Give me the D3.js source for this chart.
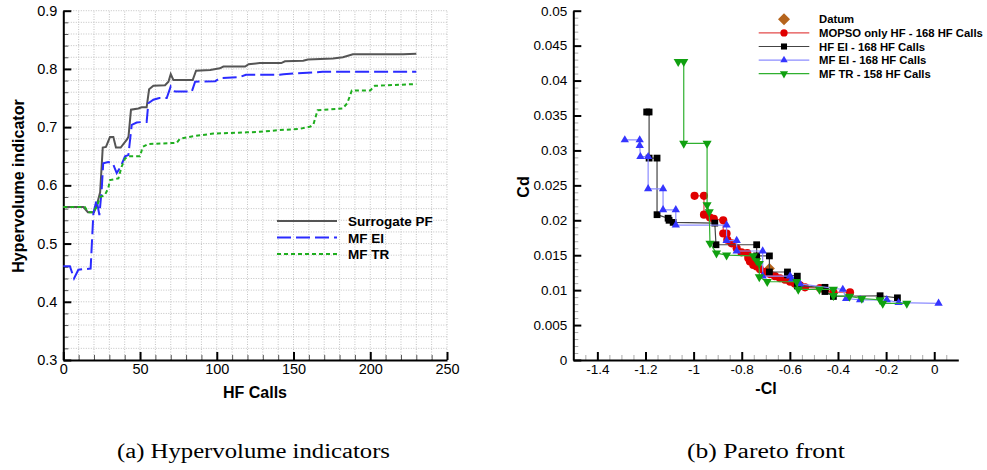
<!DOCTYPE html>
<html>
<head>
<meta charset="utf-8">
<script src="https://cdn.jsdelivr.net/npm/d3@7"></script>
<style>
  body { margin: 0; background: #fff; }
  text { font-family: "Liberation Sans", Arial, sans-serif; }
  .caption { font-family: "Liberation Serif", "DejaVu Serif", serif; }
</style>
</head>
<body>
<div id="chart"></div>
<script>
// ---- (a) hypervolume indicators: [HF calls, hypervolume]
const surrogatePF = [[0,0.563],[13,0.563],[16,0.554],[20,0.554],[22,0.568],[24,0.588],[25.7,0.665],[27.8,0.666],[30.4,0.683],[32.6,0.683],[34.3,0.665],[37.4,0.665],[41.5,0.679],[42.5,0.684],[44.1,0.730],[48.9,0.732],[51,0.734],[54.3,0.734],[55.9,0.765],[58.7,0.771],[66.3,0.772],[68.5,0.778],[70,0.791],[71.7,0.781],[84.3,0.781],[86.5,0.797],[95.7,0.798],[102,0.801],[104.3,0.804],[118.5,0.804],[120.7,0.808],[128,0.810],[142,0.810],[144.4,0.813],[156.3,0.814],[159.4,0.816],[175.7,0.818],[182.2,0.820],[188.7,0.825],[221.3,0.825],[230,0.826]];
const mfEI_hv = [[0,0.461],[4.3,0.461],[7,0.440],[9.8,0.455],[13,0.456],[17.8,0.457],[19.6,0.552],[21.7,0.575],[23.5,0.549],[25,0.592],[26,0.638],[29.3,0.640],[32.2,0.638],[34.8,0.621],[37.4,0.632],[40.2,0.650],[42.4,0.652],[44.6,0.704],[47.8,0.708],[52.2,0.709],[54.3,0.709],[55.4,0.741],[58.7,0.747],[62.6,0.750],[67.4,0.750],[70,0.770],[72.8,0.761],[83.7,0.761],[85.9,0.778],[99,0.779],[102,0.784],[115,0.786],[119,0.790],[141,0.790],[143.5,0.791],[156,0.793],[169,0.795],[230,0.795]];
const mfTR_hv = [[0,0.563],[14,0.563],[16.3,0.554],[19.6,0.554],[21.7,0.563],[24,0.580],[27,0.583],[29.3,0.595],[30.4,0.609],[35.9,0.612],[38,0.632],[40.2,0.646],[42.4,0.650],[50,0.650],[51.7,0.666],[55.4,0.671],[73.9,0.673],[76,0.680],[83.7,0.684],[97.8,0.689],[119.6,0.691],[128,0.692],[141,0.695],[154,0.697],[161,0.701],[163,0.705],[165.7,0.729],[182,0.732],[185,0.741],[188,0.763],[200,0.763],[203,0.771],[230,0.774]];
const hvXTicks = [0, 50, 100, 150, 200, 250];
const hvYTicks = [0.3, 0.4, 0.5, 0.6, 0.7, 0.8, 0.9];
const hvLegend = ["Surrogate PF", "MF EI", "MF TR"];

// ---- (b) Pareto front: [-Cl, Cd]
const datum = [[-0.685, 0.0131]];
const mopsoHF = [[-0.996,0.0235],[-0.957,0.0235],[-0.957,0.0208],[-0.932,0.0204],[-0.916,0.0202],[-0.877,0.0200],[-0.877,0.0181],[-0.863,0.0181],[-0.860,0.0172],[-0.842,0.0167],[-0.821,0.0160],[-0.801,0.0154],[-0.777,0.0153],[-0.773,0.0146],[-0.766,0.0141],[-0.752,0.0136],[-0.738,0.0134],[-0.724,0.0130],[-0.703,0.0126],[-0.683,0.0123],[-0.662,0.0120],[-0.641,0.0117],[-0.620,0.0115],[-0.599,0.0112],[-0.579,0.0109],[-0.558,0.0107],[-0.537,0.0104],[-0.475,0.0103],[-0.454,0.0100],[-0.419,0.0097],[-0.350,0.0097]];
const hfEI = [[-1.195,0.0355],[-1.185,0.0355],[-1.185,0.0289],[-1.152,0.0289],[-1.152,0.0208],[-1.106,0.0203],[-1.102,0.0200],[-1.085,0.0197],[-0.912,0.0196],[-0.907,0.0165],[-0.738,0.0165],[-0.738,0.0149],[-0.685,0.0149],[-0.685,0.0126],[-0.610,0.0126],[-0.610,0.0122],[-0.569,0.0120],[-0.569,0.0106],[-0.454,0.0104],[-0.454,0.0098],[-0.419,0.0091],[-0.225,0.0092],[-0.153,0.0089]];
const mfEI = [[-1.286,0.0315],[-1.224,0.0315],[-1.224,0.0307],[-1.221,0.0291],[-1.189,0.0291],[-1.189,0.0245],[-1.127,0.0245],[-1.127,0.0215],[-1.074,0.0215],[-1.074,0.0193],[-0.863,0.0193],[-0.863,0.0171],[-0.821,0.0171],[-0.821,0.0156],[-0.713,0.0156],[-0.713,0.0120],[-0.599,0.0120],[-0.592,0.0115],[-0.558,0.0109],[-0.380,0.0101],[-0.366,0.0088],[-0.308,0.0086],[-0.197,0.0086],[-0.148,0.0082],[0.018,0.0081]];
const mfTR = [[-1.064,0.0427],[-1.041,0.0427],[-1.041,0.0310],[-0.944,0.0310],[-0.944,0.0222],[-0.935,0.0212],[-0.932,0.0167],[-0.905,0.0153],[-0.863,0.0150],[-0.752,0.0149],[-0.738,0.0142],[-0.727,0.0138],[-0.727,0.0119],[-0.694,0.0112],[-0.572,0.0112],[-0.565,0.0101],[-0.477,0.0101],[-0.419,0.0101],[-0.419,0.0092],[-0.352,0.0091],[-0.301,0.0088],[-0.225,0.0086],[-0.214,0.0081],[-0.114,0.0081]];
const pfXTicks = [-1.4, -1.2, -1, -0.8, -0.6, -0.4, -0.2, 0];
const pfYTicks = [0, 0.005, 0.01, 0.015, 0.02, 0.025, 0.03, 0.035, 0.04, 0.045, 0.05];
const pfLegend = ["Datum", "MOPSO only HF - 168 HF Calls", "HF EI - 168 HF Calls", "MF EI - 168 HF Calls", "MF TR - 158 HF Calls"];

const captions = ["(a) Hypervolume indicators", "(b) Pareto front"];

const svg = d3.select("#chart").append("svg")
    .attr("width", 987)
    .attr("height", 470);

// helper: inward ticks (major + minor) on left/bottom axes
function drawAxes(g, x, y, xMajor, yMajor, xMinor, yMinor, xFmt, yFmt, fontSize, bottom, minorColor) {
    const minorX = g.append("g").attr("transform", `translate(0,${bottom})`)
        .call(d3.axisBottom(x).tickValues(xMinor).tickSize(-5).tickFormat(""));
    minorX.select(".domain").remove();
    minorX.selectAll("line").attr("stroke", minorColor).attr("stroke-width", 1);

    const minorY = g.append("g").attr("transform", `translate(${x.range()[0]},0)`)
        .call(d3.axisLeft(y).tickValues(yMinor).tickSize(-5).tickFormat(""));
    minorY.select(".domain").remove();
    minorY.selectAll("line").attr("stroke", minorColor).attr("stroke-width", 1);

    const ax = g.append("g").attr("transform", `translate(0,${bottom})`)
        .call(d3.axisBottom(x).tickValues(xMajor).tickSize(-8).tickSizeOuter(0).tickPadding(4).tickFormat(xFmt));
    const ay = g.append("g").attr("transform", `translate(${x.range()[0]},0)`)
        .call(d3.axisLeft(y).tickValues(yMajor).tickSize(-8).tickSizeOuter(0).tickPadding(6).tickFormat(yFmt));
    [ax, ay].forEach(a => {
        a.select(".domain").attr("stroke", "#000").attr("stroke-width", 2);
        a.selectAll(".tick line").attr("stroke", "#000").attr("stroke-width", 2);
        a.selectAll(".tick text").attr("fill", "#000").style("font-size", fontSize + "px")
            .style("font-family", "'Liberation Sans', Arial, sans-serif");
    });
}

// ================= (a) =================
const gA = svg.append("g");
const xA = d3.scaleLinear().domain([0, 250]).range([63.3, 447]);
const yA = d3.scaleLinear().domain([0.3, 0.9]).range([360, 10.7]);

const gridX = d3.range(10, 251, 10);
const gridY = d3.range(0.32, 0.9001, 0.02);
gA.append("g").selectAll("line").data(gridX).enter().append("line")
    .attr("x1", d => xA(d)).attr("x2", d => xA(d))
    .attr("y1", yA(0.3)).attr("y2", yA(0.9))
    .attr("stroke", "#c2c2c2").attr("stroke-width", 1).attr("stroke-dasharray", "1,1.5");
gA.append("g").selectAll("line").data(gridY).enter().append("line")
    .attr("x1", xA(0)).attr("x2", xA(250))
    .attr("y1", d => yA(d)).attr("y2", d => yA(d))
    .attr("stroke", "#c2c2c2").attr("stroke-width", 1).attr("stroke-dasharray", "1,1.5");

drawAxes(gA, xA, yA, hvXTicks, hvYTicks,
    d3.range(10, 250, 10).filter(d => d % 50 !== 0),
    d3.range(0.32, 0.9, 0.02).filter(d => Math.abs(d * 10 - Math.round(d * 10)) > 1e-6),
    d => d, d3.format(".1f"), 14.5, 360, "#555");

const lineA = d3.line().x(d => xA(d[0])).y(d => yA(d[1]));
const hvSeries = [
    { data: surrogatePF, color: "#555555", dash: null },
    { data: mfEI_hv, color: "#2b2bff", dash: "14,5" },
    { data: mfTR_hv, color: "#1fae1f", dash: "4,3" }
];
hvSeries.forEach(s => {
    gA.append("path").datum(s.data)
        .attr("d", lineA)
        .attr("fill", "none")
        .attr("stroke", s.color)
        .attr("stroke-width", 2)
        .attr("stroke-dasharray", s.dash);
});

// legend (a)
hvLegend.forEach((name, i) => {
    const ly = 221 + i * 16.5;
    gA.append("line").attr("x1", 277).attr("x2", 337).attr("y1", ly).attr("y2", ly)
        .attr("stroke", hvSeries[i].color).attr("stroke-width", 2)
        .attr("stroke-dasharray", hvSeries[i].dash);
    gA.append("text").attr("x", 348).attr("y", ly + 5)
        .style("font-size", "13.5px").style("font-weight", "bold").text(name);
});

gA.append("text").attr("text-anchor", "middle")
    .attr("x", 255).attr("y", 398)
    .style("font-size", "16px").style("font-weight", "bold").text("HF Calls");
gA.append("text").attr("text-anchor", "middle")
    .attr("transform", "rotate(-90)")
    .attr("x", -186).attr("y", 24)
    .style("font-size", "16px").style("font-weight", "bold").text("Hypervolume indicator");

// ================= (b) =================
const gB = svg.append("g");
const xB = d3.scaleLinear().domain([-1.5, 0.1]).range([573.3, 958.3]);
const yB = d3.scaleLinear().domain([0, 0.05]).range([360, 10.7]);

drawAxes(gB, xB, yB, pfXTicks, pfYTicks,
    d3.range(-1.45, 0.1, 0.05).filter(d => Math.abs(d * 5 - Math.round(d * 5)) > 1e-6),
    d3.range(0.001, 0.05, 0.001).filter(d => Math.abs(d * 200 - Math.round(d * 200)) > 1e-6),
    d => String(+d.toFixed(1)), d => String(+d.toFixed(3)), 13.5, 360, "#aaa");

const lineB = d3.line().x(d => xB(d[0])).y(d => yB(d[1]));
const pfSeries = [
    { data: mopsoHF, line: "#e34a4a", fill: "#e00000", shape: d3.symbolCircle, size: 52, rot: 0 },
    { data: hfEI, line: "#444444", fill: "#000000", shape: d3.symbolSquare, size: 46, rot: 0 },
    { data: mfEI, line: "#8c8cff", fill: "#3535ff", shape: d3.symbolTriangle, size: 30, rot: 0 },
    { data: mfTR, line: "#2fb02f", fill: "#10a010", shape: d3.symbolTriangle, size: 36, rot: 180 }
];

// datum below the rest (square turned 45 degrees)
gB.selectAll(".datum").data(datum).enter().append("path")
    .attr("class", "datum")
    .attr("d", d3.symbol(d3.symbolSquare, 60))
    .attr("transform", d => `translate(${xB(d[0])},${yB(d[1])}) rotate(45)`)
    .attr("fill", "#b5641c");

pfSeries.forEach(s => {
    gB.append("path").datum(s.data)
        .attr("d", lineB)
        .attr("fill", "none")
        .attr("stroke", s.line)
        .attr("stroke-width", 1.2);
    gB.append("g").selectAll("path").data(s.data).enter().append("path")
        .attr("d", d3.symbol(s.shape, s.size))
        .attr("transform", d => `translate(${xB(d[0])},${yB(d[1])}) rotate(${s.rot})`)
        .attr("fill", s.fill);
});

// legend (b)
pfLegend.forEach((name, i) => {
    const ly = 19.3 + i * 13.6;
    if (i === 0) {
        gB.append("path").attr("d", d3.symbol(d3.symbolSquare, 72))
            .attr("transform", `translate(784,${ly}) rotate(45)`).attr("fill", "#b5641c");
    } else {
        const s = pfSeries[i - 1];
        gB.append("line").attr("x1", 758.7).attr("x2", 809.3).attr("y1", ly).attr("y2", ly)
            .attr("stroke", s.line).attr("stroke-width", 1.2);
        gB.append("path").attr("d", d3.symbol(s.shape, s.size * 0.8))
            .attr("transform", `translate(784,${ly}) rotate(${s.rot})`).attr("fill", s.fill);
    }
    gB.append("text").attr("x", 819).attr("y", ly + 4)
        .style("font-size", "11.3px").style("font-weight", "bold").text(name);
});

gB.append("text").attr("text-anchor", "middle")
    .attr("x", 766).attr("y", 394)
    .style("font-size", "16px").style("font-weight", "bold").text("-Cl");
gB.append("text").attr("text-anchor", "middle")
    .attr("transform", "rotate(-90)")
    .attr("x", -187).attr("y", 529)
    .style("font-size", "16px").style("font-weight", "bold").text("Cd");

// captions
const capPos = [[117, 273], [687, 158]];
captions.forEach((c, i) => {
    svg.append("text").attr("class", "caption")
        .attr("x", capPos[i][0]).attr("y", 458)
        .attr("textLength", capPos[i][1]).attr("lengthAdjust", "spacingAndGlyphs")
        .style("font-size", "20px").style("font-family", "'Liberation Serif', serif")
        .text(c);
});
</script>
</body>
</html>
